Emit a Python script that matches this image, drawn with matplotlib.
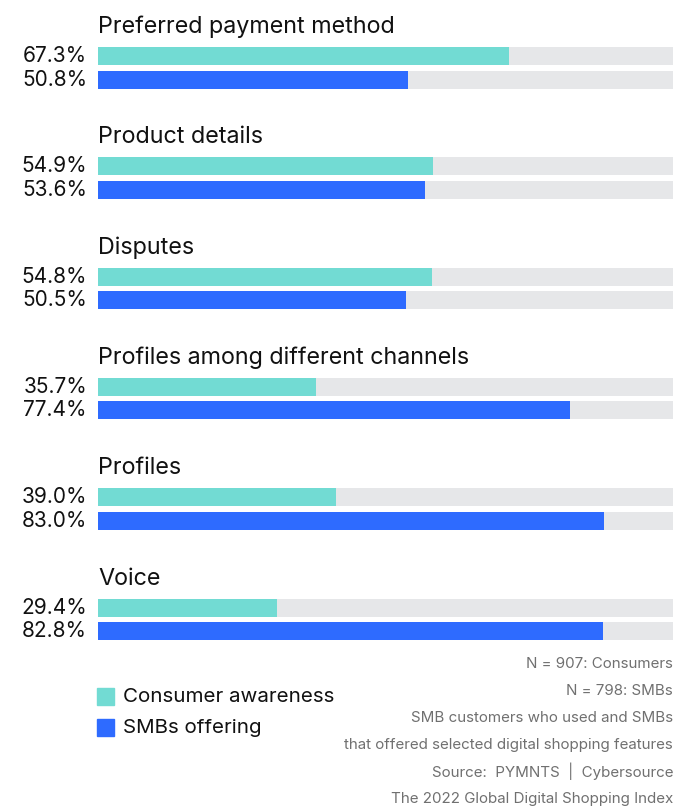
import matplotlib
matplotlib.use("Agg")
import matplotlib.pyplot as plt
from matplotlib.patches import Rectangle

categories = ["Preferred payment method", "Product details", "Disputes",
              "Profiles among different channels", "Profiles", "Voice"]
consumer = [67.3, 54.9, 54.8, 35.7, 39.0, 29.4]
smb = [50.8, 53.6, 50.5, 77.4, 83.0, 82.8]
series_names = ["Consumer awareness", "SMBs offering"]
notes = ["N = 907: Consumers", "N = 798: SMBs",
         "SMB customers who used and SMBs",
         "that offered selected digital shopping features",
         "Source:  PYMNTS  |  Cybersource",
         "The 2022 Global Digital Shopping Index"]

TEAL = "#72dbd3"
BLUE = "#2e6bff"
TRACK = "#e6e7e9"
FONT = ["Inter", "DejaVu Sans"]

W, H = 673, 807
fig = plt.figure(figsize=(W / 100, H / 100), dpi=100)
ax = fig.add_axes([98 / W, 0, 575 / W, 1])
ax.set_xlim(0, 575 / 6.1)
gap = 110.3
ax.set_ylim((H - 56) / gap, -56 / gap)
ax.axis("off")

off = 23.5 / gap
bh = 18 / gap
xmax = 575 / 6.1
for i, (c, a, b) in enumerate(zip(categories, consumer, smb)):
    for y, v, col in ((i, a, TEAL), (i + off, b, BLUE)):
        ax.barh(y, xmax, height=bh, left=0, color=TRACK, zorder=1)
        ax.barh(y, v, height=bh, left=0, color=col, zorder=2)
        ax.text(-11 / 6.1, y, f"{v:.1f}%", ha="right", va="center",
                fontsize=15, family=FONT, color="#111111", clip_on=False)
    ax.text(0, i - 23 / gap, c, ha="left", va="baseline", fontsize=16.8,
            family=FONT, color="#111111")

# legend
for k, (name, col) in enumerate(zip(series_names, [TEAL, BLUE])):
    yc = (696.5 + 31 * k - 56) / gap
    ax.add_patch(Rectangle((-1 / 6.1, yc - 8.5 / gap), 17 / 6.1, 17 / gap,
                           color=col, clip_on=False))
    ax.text(25 / 6.1, yc, name, ha="left", va="center", fontsize=14.8,
            family=FONT, color="#111111")

for k, t in enumerate(notes):
    yc = (664 + 26.9 * k - 56) / gap
    ax.text(xmax, yc, t, ha="right", va="center", fontsize=10.9,
            family=FONT, color="#707070")

fig.savefig("out.png", dpi=100)
